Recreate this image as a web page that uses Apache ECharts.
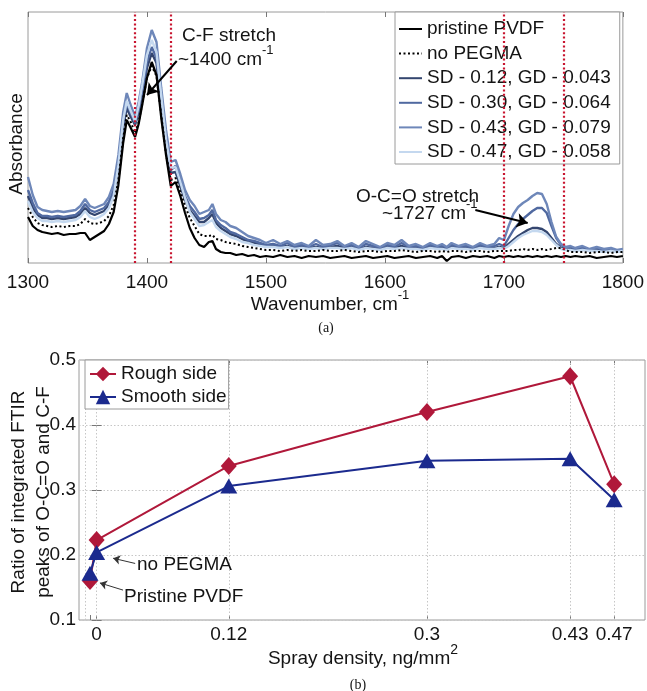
<!DOCTYPE html>
<html><head><meta charset="utf-8">
<script src="https://cdn.jsdelivr.net/npm/echarts@6/dist/echarts.min.js"></script>
<style>html,body{margin:0;padding:0;background:#fff}#c{width:647px;height:691px}</style>
</head><body><div id="c"></div>
<script>
// ---------- Panel (a): FTIR spectra (absorbance, arbitrary units) ----------
const wavenumber = [1300,1304,1308,1312,1316,1320,1325,1330,1335,1340,
 1344,1348,1352,1356,1360,1364,1368,1372,1376,1380,
 1383,1386,1390,1393,1396,1400,1404,1408,1412,1416,
 1420,1424,1428,1432,1436,1440,1444,1448,1452,1455,
 1458,1462,1466,1470,1475,1480,1485,1490,1495,1500,
 1506,1512,1518,1524,1530,1536,1542,1548,1554,1560,
 1566,1572,1578,1584,1590,1596,1602,1608,1614,1620,
 1626,1632,1638,1644,1648,1652,1656,1662,1668,1674,
 1680,1686,1692,1696,1700,1704,1708,1712,1716,1720,
 1724,1728,1732,1736,1740,1744,1748,1752,1756,1760,
 1766,1772,1778,1784,1790,1795,1800];
const pristinePVDF = [46,37,33,31,30,29,30,28,29,29,
 30,30,23,26,29,32,39,51,78,120,
 143,136,126,139,158,185,201,188,145,108,
 77,81,67,50,35,25,18,16,21,22,
 14,11,10,10,8,9,7,8,6,7,
 6,8,6,7,5,7,6,7,5,6,
 7,5,6,7,5,6,7,5,6,7,
 5,6,7,5,7,2,6,7,5,7,
 6,7,5,7,6,7,6,7,6,7,
 6,7,6,7,6,7,6,7,6,7,
 6,7,5,6,7,6,7];
const noPEGMA = [55,46,40,38,37,36,37,36,37,37,
 39,44,40,39,40,42,47,58,83,125,
 148,142,130,141,159,185,197,187,148,109,
 83,85,71,57,45,37,29,27,27,28,
 24,23,21,20,19,17,16,15,14,13,
 13,12,13,12,13,12,12,13,12,12,
 13,12,11,12,12,11,12,12,13,12,
 11,12,12,11,12,11,12,12,11,12,
 12,11,12,12,12,12,13,13,14,13,
 14,13,14,13,14,15,15,13,11,11,
 11,10,11,11,10,11,11];
const sd012 = [67,55,48,45,45,44,45,44,45,46,
 49,55,50,48,50,52,58,69,95,136,
 155,147,138,150,167,195,210,200,159,117,
 90,91,77,63,53,47,41,41,45,49,
 40,35,32,29,27,24,22,20,19,17,
 17,16,17,15,16,15,16,15,16,17,
 15,16,14,16,15,14,16,15,17,15,
 15,14,16,15,15,14,16,15,15,14,
 16,15,15,16,15,19,23,27,30,33,
 35,35,34,31,25,19,15,14,14,13,
 14,12,13,12,13,12,12];
const sd030 = [73,60,50,47,47,46,47,46,47,48,
 52,59,53,51,53,55,61,73,100,141,
 160,151,140,153,171,201,216,205,163,121,
 93,97,83,67,57,51,44,45,48,53,
 43,38,35,31,29,26,23,22,20,18,
 19,17,20,16,18,16,19,16,18,20,
 16,18,15,19,17,15,18,16,20,16,
 17,15,18,16,17,15,18,16,17,15,
 18,16,17,19,17,25,33,39,44,48,
 52,55,55,50,37,25,18,15,16,14,
 15,13,15,13,14,12,13];
const sd043 = [86,68,56,53,52,51,52,51,52,53,
 57,64,57,55,57,59,66,79,108,151,
 170,159,146,161,181,215,233,221,175,133,
 101,103,89,73,63,57,49,51,53,59,
 49,43,41,37,35,31,27,25,23,20,
 23,19,22,18,20,17,23,18,19,22,
 17,20,16,22,19,16,20,18,23,17,
 19,16,20,17,19,16,20,17,19,16,
 20,17,19,25,23,37,49,56,60,63,
 67,70,69,59,41,26,19,16,17,15,
 17,14,16,14,15,13,14];
const sd047 = [62,51,45,42,42,41,42,41,42,43,
 46,52,46,44,46,49,55,67,98,143,
 162,153,142,157,178,208,223,211,167,123,
 95,96,81,65,51,44,37,38,41,43,
 36,32,29,26,24,21,20,18,17,16,
 16,15,16,14,15,14,15,14,15,15,
 14,15,13,15,14,13,15,14,15,14,
 14,13,15,14,14,13,15,14,14,13,
 15,14,14,15,14,17,21,25,28,30,
 32,32,31,28,23,18,14,13,13,12,
 13,12,12,11,12,11,12];
const spectraNames = ['pristine PVDF','no PEGMA','SD - 0.12, GD - 0.043','SD - 0.30, GD - 0.064','SD - 0.43, GD - 0.079','SD - 0.47, GD - 0.058'];
const bandLines = [1390, 1420, 1700, 1750];
const cfArrow = [[1425, 202], [1400, 168]];
const ocoArrow = [[1676, 53], [1720, 40]];

// ---------- Panel (b): ratio of integrated peaks ----------
const sprayDensity = [-0.006, 0, 0.12, 0.3, 0.43, 0.47];
const sprayTickLabels = ['', '0', '0.12', '0.3', '0.43', '0.47'];
const roughSide = [0.160, 0.223, 0.337, 0.420, 0.475, 0.309];
const smoothSide = [0.172, 0.204, 0.306, 0.345, 0.348, 0.285];
const noPegmaArrow = [[0.035, 0.187], [0.015, 0.195]];
const pristineArrow = [[0.024, 0.146], [0.003, 0.157]];

const FONT = 'Liberation Sans, Arial, Helvetica, sans-serif';
const TXT = '#141414';
const pair = (xs, ys) => xs.map((x, i) => [x, ys[i]]);

const spectraStyles = [
  {data: pristinePVDF, color: '#000000', type: 'solid', width: 2.2, z: 4},
  {data: noPEGMA, color: '#000000', type: [2, 2.5], width: 2, z: 4},
  {data: sd012, color: '#34466f', type: 'solid', width: 2.4, z: 2},
  {data: sd030, color: '#5069a0', type: 'solid', width: 2.4, z: 2},
  {data: sd043, color: '#6e87b9', type: 'solid', width: 2.4, z: 2},
  {data: sd047, color: '#c4d8ef', type: 'solid', width: 2.4, z: 2}
];

const series = spectraStyles.map((s, i) => ({
  name: spectraNames[i], type: 'line', xAxisIndex: 0, yAxisIndex: 0,
  data: pair(wavenumber, s.data), symbol: 'none', showSymbol: false,
  legendIcon: 'none',
  z: s.z, silent: true,
  lineStyle: {color: s.color, width: s.width, type: s.type},
  itemStyle: {color: s.color}
}));
series[0].markLine = {
  silent: true, symbol: 'none', animation: false,
  label: {show: false},
  lineStyle: {color: '#c8142f', width: 2.2, type: [2, 2.4]},
  data: bandLines.map(v => ({xAxis: v}))
};
series[1].markLine = {
  silent: true, animation: false, symbol: ['none', 'arrow'], symbolSize: 11,
  label: {show: false},
  lineStyle: {color: '#000', width: 2, type: 'solid'},
  data: [
    [{coord: cfArrow[0]}, {coord: cfArrow[1]}],
    [{coord: ocoArrow[0]}, {coord: ocoArrow[1]}]
  ]
};

series.push({
  type: 'line', xAxisIndex: 2, yAxisIndex: 1, data: [], silent: true, z: 1,
  markLine: {
    silent: true, symbol: 'none', animation: false, label: {show: false}, z: 1,
    lineStyle: {color: '#c6c6c6', width: 1, type: [1.5, 2]},
    data: sprayDensity.map(v => ({xAxis: v}))
  }
});
series.push({
  name: 'Rough side', type: 'line', xAxisIndex: 2, yAxisIndex: 1,
  data: pair(sprayDensity, roughSide), symbol: 'diamond', symbolSize: [16, 18],
  z: 3, silent: true,
  lineStyle: {color: '#b0183a', width: 2}, itemStyle: {color: '#b0183a', borderWidth: 0, opacity: 1}
});
series.push({
  name: 'Smooth side', type: 'line', xAxisIndex: 2, yAxisIndex: 1,
  data: pair(sprayDensity, smoothSide), symbol: 'triangle', symbolSize: [17, 15],
  z: 4, silent: true,
  lineStyle: {color: '#1b2a8e', width: 2}, itemStyle: {color: '#1b2a8e', borderWidth: 0, opacity: 1},
  markLine: {
    silent: true, animation: false, symbol: ['none', 'arrow'], symbolSize: 7,
    label: {show: false},
    lineStyle: {color: '#333', width: 1, type: 'solid'},
    data: [
      [{coord: noPegmaArrow[0]}, {coord: noPegmaArrow[1]}],
      [{coord: pristineArrow[0]}, {coord: pristineArrow[1]}]
    ]
  }
});

const labelStyle = {color: TXT, fontSize: 19, fontFamily: FONT};
const tickStyle = {show: true, inside: true, length: 5, lineStyle: {color: '#777', width: 1}};
const sprayLabelMap = {};
sprayDensity.forEach((v, i) => { sprayLabelMap[v] = sprayTickLabels[i]; });
const sprayLabelValues = sprayDensity.filter((v, i) => sprayTickLabels[i] !== '');

const option = {
  animation: false,
  backgroundColor: '#fff',
  grid: [
    {left: 28, top: 12, width: 596, height: 251, show: true, borderColor: '#9a9a9a', borderWidth: 1, backgroundColor: 'transparent'},
    {left: 79, top: 360, width: 566, height: 260, show: true, borderColor: '#9a9a9a', borderWidth: 1, backgroundColor: 'transparent'}
  ],
  xAxis: [
    {type: 'value', gridIndex: 0, min: 1300, max: 1800, interval: 100,
     axisLine: {show: false}, axisTick: tickStyle, splitLine: {show: false},
     axisLabel: Object.assign({margin: 10, formatter: v => String(v)}, labelStyle)},
    {type: 'value', gridIndex: 0, position: 'top', min: 1300, max: 1800, interval: 100,
     axisLine: {show: false}, axisTick: tickStyle, splitLine: {show: false}, axisLabel: {show: false}},
    {type: 'value', gridIndex: 1, min: -0.016, max: 0.498,
     axisLine: {show: false}, splitLine: {show: false},
     axisTick: Object.assign({customValues: sprayDensity}, tickStyle),
     axisLabel: Object.assign({margin: 5, customValues: sprayLabelValues,
       formatter: v => (sprayLabelMap[v] !== undefined ? sprayLabelMap[v] : '')}, labelStyle)},
    {type: 'value', gridIndex: 1, position: 'top', min: -0.016, max: 0.498,
     axisLine: {show: false}, splitLine: {show: false},
     axisTick: Object.assign({customValues: sprayDensity}, tickStyle), axisLabel: {show: false}}
  ],
  yAxis: [
    {type: 'value', gridIndex: 0, min: 0, max: 251,
     axisLine: {show: false}, axisTick: {show: false}, axisLabel: {show: false}, splitLine: {show: false}},
    {type: 'value', gridIndex: 1, min: 0.1, max: 0.5, interval: 0.1,
     axisLine: {show: false}, axisTick: tickStyle,
     splitLine: {show: true, lineStyle: {color: '#c6c6c6', width: 1, type: [1.5, 2]}},
     axisLabel: Object.assign({margin: 3, formatter: v => v.toFixed(1)}, labelStyle)},
    {type: 'value', gridIndex: 1, position: 'right', min: 0.1, max: 0.5, interval: 0.1,
     axisLine: {show: false}, axisTick: tickStyle, axisLabel: {show: false}, splitLine: {show: false}}
  ],
  legend: [
    {data: spectraNames, orient: 'vertical', left: 395, top: 12,
     padding: [7, 9, 2, 3], itemGap: 4.6, itemWidth: 23, itemHeight: 14,
     itemStyle: {opacity: 0},
     backgroundColor: '#fff', borderColor: '#9a9a9a', borderWidth: 1, borderRadius: 0,
     textStyle: {color: TXT, fontSize: 19, fontFamily: FONT, lineHeight: 20}, selectedMode: false},
    {data: ['Rough side', 'Smooth side'], orient: 'vertical', left: 85, top: 360,
     padding: [4, 2, 2, 4], itemGap: 3, itemWidth: 26, itemHeight: 18,
     backgroundColor: '#fff', borderColor: '#9a9a9a', borderWidth: 1, borderRadius: 0,
     textStyle: {color: TXT, fontSize: 19, fontFamily: FONT, lineHeight: 20}, selectedMode: false}
  ],
  series: series,
  graphic: [
    {type: 'text', x: 17, y: 144, rotation: Math.PI / 2, z: 10,
     style: {text: 'Absorbance', font: '19px ' + FONT, fill: TXT, align: 'center', verticalAlign: 'middle', textAlign: 'center', textVerticalAlign: 'middle'}},
    {type: 'text', x: 330, y: 305, z: 10,
     style: {text: '{m|Wavenumber, cm}{s|-1}', fill: TXT, align: 'center', verticalAlign: 'middle', textAlign: 'center', textVerticalAlign: 'middle',
       rich: {m: {fontSize: 19, fontFamily: FONT, lineHeight: 32, fill: TXT, color: TXT}, s: {fontSize: 13, fontFamily: FONT, lineHeight: 12, verticalAlign: 'top', fill: TXT, color: TXT}}}},
    {type: 'text', x: 326, y: 328, z: 10,
     style: {text: '(a)', font: '14px Liberation Serif, DejaVu Serif, serif', fill: TXT, align: 'center', verticalAlign: 'middle', textAlign: 'center', textVerticalAlign: 'middle'}},
    {type: 'text', x: 182, y: 36, z: 10,
     style: {text: 'C-F stretch', font: '19px ' + FONT, fill: TXT, align: 'left', verticalAlign: 'middle', textAlign: 'left', textVerticalAlign: 'middle'}},
    {type: 'text', x: 178, y: 60, z: 10,
     style: {text: '{m|~1400 cm}{s|-1}', fill: TXT, align: 'left', verticalAlign: 'middle', textAlign: 'left', textVerticalAlign: 'middle',
       rich: {m: {fontSize: 19, fontFamily: FONT, lineHeight: 32, fill: TXT, color: TXT}, s: {fontSize: 13, fontFamily: FONT, lineHeight: 12, verticalAlign: 'top', fill: TXT, color: TXT}}}},
    {type: 'text', x: 356, y: 197, z: 10,
     style: {text: 'O-C=O stretch', font: '19px ' + FONT, fill: TXT, align: 'left', verticalAlign: 'middle', textAlign: 'left', textVerticalAlign: 'middle'}},
    {type: 'text', x: 382, y: 214, z: 10,
     style: {text: '{m|~1727 cm}{s|-1}', fill: TXT, align: 'left', verticalAlign: 'middle', textAlign: 'left', textVerticalAlign: 'middle',
       rich: {m: {fontSize: 19, fontFamily: FONT, lineHeight: 32, fill: TXT, color: TXT}, s: {fontSize: 13, fontFamily: FONT, lineHeight: 12, verticalAlign: 'top', fill: TXT, color: TXT}}}},
    {type: 'text', x: 31, y: 492, rotation: Math.PI / 2, z: 10,
     style: {text: 'Ratio of integrated FTIR\npeaks of O-C=O and C-F', font: '19px ' + FONT, lineHeight: 25, fill: TXT, align: 'center', verticalAlign: 'middle', textAlign: 'center', textVerticalAlign: 'middle'}},
    {type: 'text', x: 363, y: 659, z: 10,
     style: {text: '{m|Spray density, ng/mm}{s|2}', fill: TXT, align: 'center', verticalAlign: 'middle', textAlign: 'center', textVerticalAlign: 'middle',
       rich: {m: {fontSize: 19, fontFamily: FONT, lineHeight: 32, fill: TXT, color: TXT}, s: {fontSize: 14, fontFamily: FONT, lineHeight: 13, verticalAlign: 'top', fill: TXT, color: TXT}}}},
    {type: 'text', x: 358, y: 685, z: 10,
     style: {text: '(b)', font: '14px Liberation Serif, DejaVu Serif, serif', fill: TXT, align: 'center', verticalAlign: 'middle', textAlign: 'center', textVerticalAlign: 'middle'}},
    {type: 'text', x: 137, y: 565, z: 10,
     style: {text: 'no PEGMA', font: '19px ' + FONT, fill: TXT, align: 'left', verticalAlign: 'middle', textAlign: 'left', textVerticalAlign: 'middle'}},
    {type: 'text', x: 124, y: 597, z: 10,
     style: {text: 'Pristine PVDF', font: '19px ' + FONT, fill: TXT, align: 'left', verticalAlign: 'middle', textAlign: 'left', textVerticalAlign: 'middle'}}
  ]
};
const chart = echarts.init(document.getElementById('c'), null, {renderer: 'canvas'});
chart.setOption(option);
</script>
</body></html>
